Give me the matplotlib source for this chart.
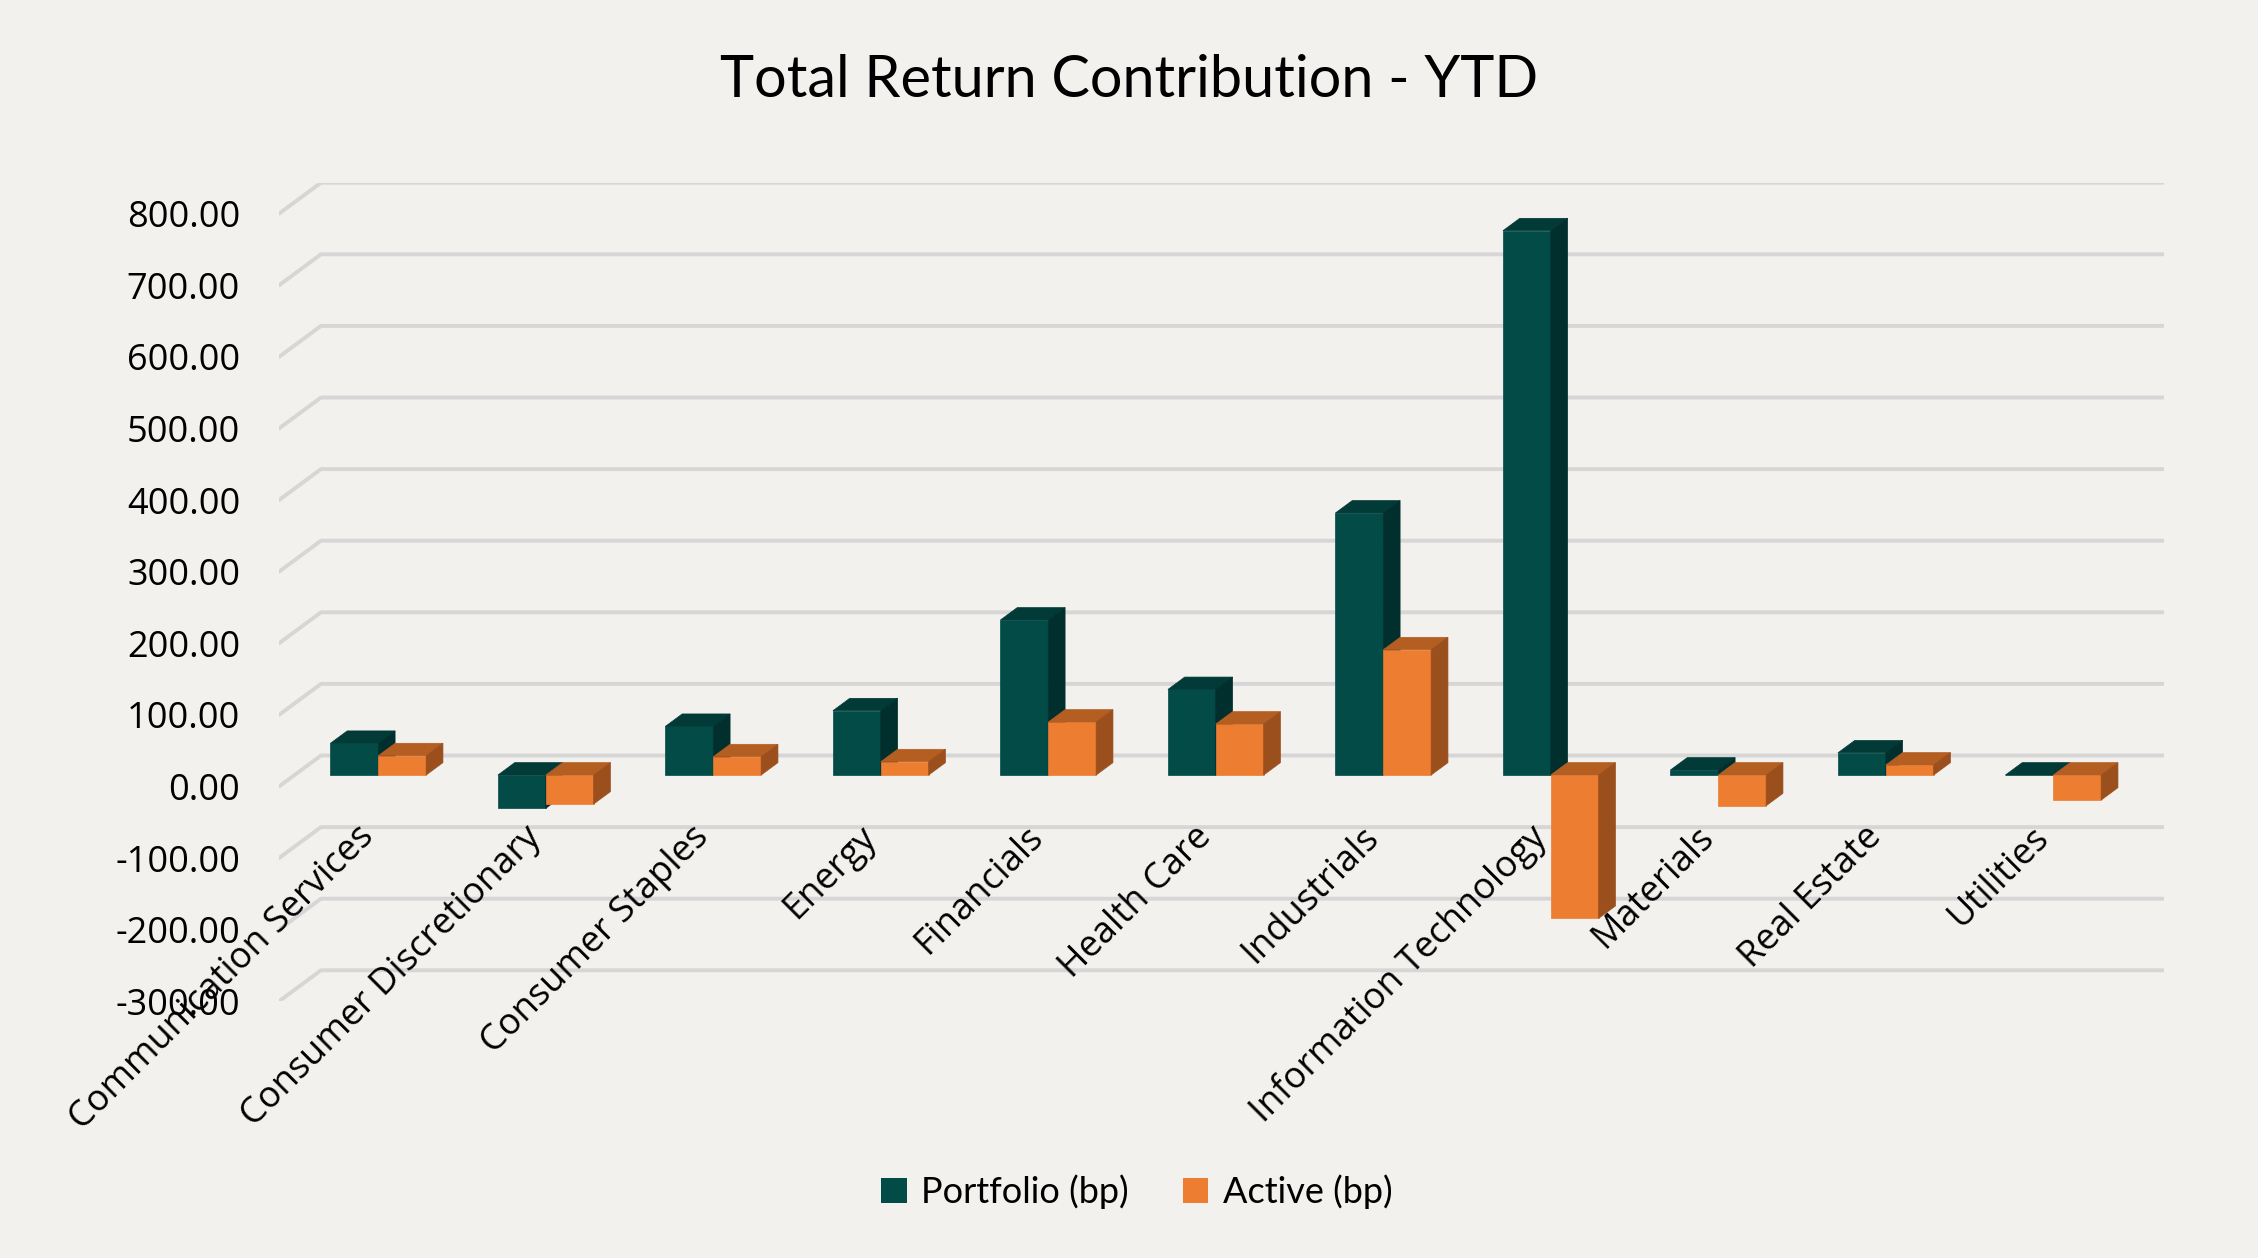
import numpy as np
import matplotlib.pyplot as plt
from matplotlib.patches import Polygon, Patch
from matplotlib.transforms import ScaledTranslation

# data (bp)
categories = ['Communication Services', 'Consumer Discretionary', 'Consumer Staples', 'Energy',
              'Financials', 'Health Care', 'Industrials', 'Information Technology',
              'Materials', 'Real Estate', 'Utilities']
portfolio = [44.3, -46.5, 68.0, 89.8, 216.5, 119.5, 366.0, 760.2, 7.0, 31.0, 0.0]
active = [27.0, -40.5, 25.6, 18.6, 74.0, 71.2, 175.0, -200.2, -42.9, 14.0, -35.0]
yticks = list(range(-300, 900, 100))

BG = '#F2F1EE'
GRID = '#D6D6D6'
# front, top, side colours
series = [('Portfolio (bp)', portfolio, ('#024B47', '#013A37', '#012F2E')),
          ('Active (bp)', active, ('#ED7D31', '#B45E22', '#9A4F1D'))]

# fake 3d: full depth of the chart in data units
DX, DY = 0.2507, 43.3
D0, D1 = 0.37, 0.77      # columns sit between these depth fractions
W = 1 / 3.5              # bar width, gap width 150%

fig = plt.figure(figsize=(22.58, 12.58), dpi=100, facecolor=BG)
ax = fig.add_axes([279 / 2258, 1 - 1001.3 / 1258, 1884.5 / 2258, 818.6 / 1258])
ax.set_facecolor('none')
n = len(categories)
ax.set_xlim(-0.5, n - 0.5 + DX)
ax.set_ylim(-300, 800 + DY)

# back wall gridlines + side wall diagonals
x0, x1 = -0.5, n - 0.5
for v in yticks:
    ax.plot([x0, x0 + DX, x1 + DX], [v, v + DY, v + DY], color=GRID, lw=2.8,
            solid_capstyle='round', solid_joinstyle='round', zorder=1)


def box(x, v, cols, z):
    lo, hi = min(0, v), max(0, v)
    fx, fy = x + D0 * DX, D0 * DY
    bx, by = (D1 - D0) * DX, (D1 - D0) * DY
    front = [(fx, lo + fy), (fx + W, lo + fy), (fx + W, hi + fy), (fx, hi + fy)]
    top = [(fx, hi + fy), (fx + W, hi + fy), (fx + W + bx, hi + fy + by), (fx + bx, hi + fy + by)]
    side = [(fx + W, lo + fy), (fx + W + bx, lo + fy + by), (fx + W + bx, hi + fy + by), (fx + W, hi + fy)]
    for pts, c in [(front, cols[0]), (top, cols[1]), (side, cols[2])]:
        ax.add_patch(Polygon(pts, closed=True, facecolor=c, edgecolor=c, lw=0.5, zorder=z))


z = 2
for i in range(n):
    for j, (name, vals, cols) in enumerate(series):
        box(i - W + j * W, vals[i], cols, z)
        z += 0.01

for s in ax.spines.values():
    s.set_visible(False)
ax.spines['bottom'].set_position(('data', 0))

ax.set_yticks(yticks)
ax.set_yticklabels([f'{v:.2f}' for v in yticks], fontsize=26, family='Open Sans')
ax.tick_params(axis='y', length=0, pad=28)

ax.set_xticks(range(n))
ax.set_xticklabels(categories, fontsize=26, family='Open Sans', rotation=45,
                   ha='right', rotation_mode='anchor')
ax.tick_params(axis='x', length=0, pad=25)
shift = ScaledTranslation(-0.07, 0.02, fig.dpi_scale_trans)
for lab in ax.get_xticklabels():
    lab.set_transform(lab.get_transform() + shift)

fig.text(0.5, 1 - 97 / 1258, 'Total Return Contribution - YTD', ha='center',
         va='baseline', fontsize=41.5, family='Lato')

handles = [Patch(facecolor=cols[0], label=name) for name, vals, cols in series]
fig.legend(handles=handles, loc='center', bbox_to_anchor=(0.5035, 0.0525), ncol=2,
           frameon=False, prop={'family': 'Lato', 'size': 26}, handlelength=0.7,
           handleheight=0.7, handletextpad=0.4, columnspacing=1.5)

fig.savefig('out.png', dpi=100, facecolor=BG)
